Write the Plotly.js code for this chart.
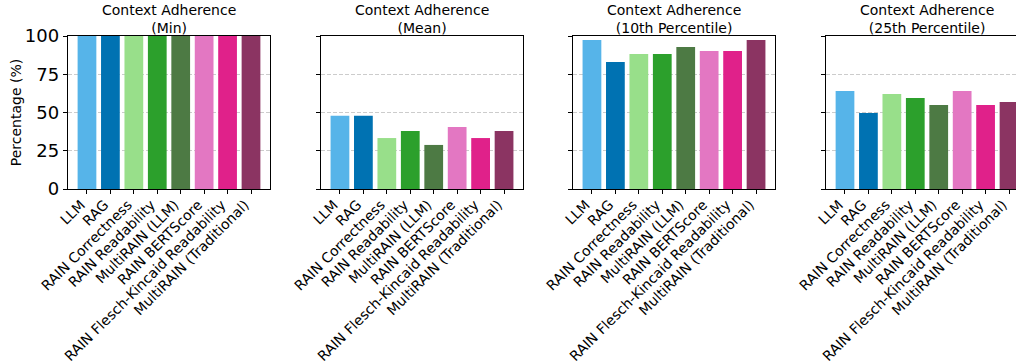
<!DOCTYPE html>
<html>
<head>
<meta charset="utf-8">
<script src="https://cdn.plot.ly/plotly-3.0.1.min.js"></script>
<style>
  html, body { margin: 0; padding: 0; overflow: hidden; background: #fff; }
  #chart { width: 1040px; height: 364px; }
</style>
</head>
<body>
<div id="chart"></div>
<script>
// Methods compared in every panel
const categories = [
  "LLM", "RAG", "RAIN Correctness", "RAIN Readability", "MultiRAIN (LLM)",
  "RAIN BERTScore", "RAIN Flesch-Kincaid Readability", "MultiRAIN (Traditional)"
];
const barColors = [
  "#56B4E9", "#0072B2", "#98DF8A", "#2CA02C", "#4D7A44",
  "#E377C2", "#E0218A", "#8B3462"
];

// Context adherence (%) per statistic
const minValues  = [100, 100, 100, 100, 100, 100, 100, 100];
const meanValues = [47.9, 47.9, 33.3, 37.9, 28.8, 40.5, 33.3, 37.9];
const p10Values  = [97.4, 83.0, 88.2, 88.2, 92.8, 90.2, 90.2, 97.4];
const p25Values  = [64.1, 49.7, 62.1, 59.5, 54.9, 64.1, 54.9, 56.9];

const panelTitles = [
  "Context Adherence<br>(Min)",
  "Context Adherence<br>(Mean)",
  "Context Adherence<br>(10th Percentile)",
  "Context Adherence<br>(25th Percentile)"
];
const panelValues = [minValues, meanValues, p10Values, p25Values];

const FONT = "DejaVu Sans";
const domains = [[0, 0.2104], [0.2635, 0.474], [0.526, 0.7365], [0.7896, 1.0]];

const traces = panelValues.map((vals, i) => ({
  type: "bar",
  x: categories,
  y: vals,
  xaxis: i === 0 ? "x" : "x" + (i + 1),
  yaxis: i === 0 ? "y" : "y" + (i + 1),
  marker: { color: barColors, line: { width: 0 } },
  showlegend: false,
  hoverinfo: "x+y"
}));

const layout = {
  width: 1040,
  height: 364,
  margin: { l: 68, r: 12, t: 36, b: 175 },
  paper_bgcolor: "#fff",
  plot_bgcolor: "#fff",
  bargap: 0.2,
  font: { family: FONT, color: "#000" },
  annotations: panelTitles.map((t, i) => ({
    text: t,
    xref: "paper", yref: "paper",
    x: (domains[i][0] + domains[i][1]) / 2,
    y: 1, yanchor: "bottom", xanchor: "center",
    yshift: -2,
    showarrow: false,
    font: { family: FONT, size: 14, color: "#000" }
  }))
};

for (let i = 0; i < 4; i++) {
  const xk = i === 0 ? "xaxis" : "xaxis" + (i + 1);
  const yk = i === 0 ? "yaxis" : "yaxis" + (i + 1);
  layout[xk] = {
    domain: domains[i],
    anchor: i === 0 ? "y" : "y" + (i + 1),
    type: "category",
    range: [-0.81, 7.81],
    tickangle: -45,
    ticks: "outside",
    ticklen: 4,
    tickwidth: 1,
    tickcolor: "#000",
    ticklabelshift: -6,
    ticklabelstandoff: -3,
    tickfont: { family: FONT, size: 14, color: "#000" },
    showline: true,
    mirror: true,
    linecolor: "#000",
    linewidth: 1.2,
    showgrid: false,
    zeroline: false
  };
  layout[yk] = {
    domain: [0, 1],
    anchor: i === 0 ? "x" : "x" + (i + 1),
    range: [0, 100],
    tickvals: [0, 25, 50, 75, 100],
    ticks: "outside",
    ticklen: 4,
    tickwidth: 1,
    tickcolor: "#000",
    showticklabels: i === 0,
    tickfont: { family: FONT, size: 18, color: "#000" },
    showline: true,
    mirror: true,
    linecolor: "#000",
    linewidth: 1.2,
    showgrid: true,
    gridcolor: "#cccccc",
    griddash: "4px,2px",
    gridwidth: 1,
    zeroline: false
  };
}
layout.yaxis.title = { text: "Percentage (%)", font: { family: FONT, size: 14, color: "#000" }, standoff: 0 };

Plotly.newPlot("chart", traces, layout, { displayModeBar: false, staticPlot: true });
</script>
</body>
</html>
